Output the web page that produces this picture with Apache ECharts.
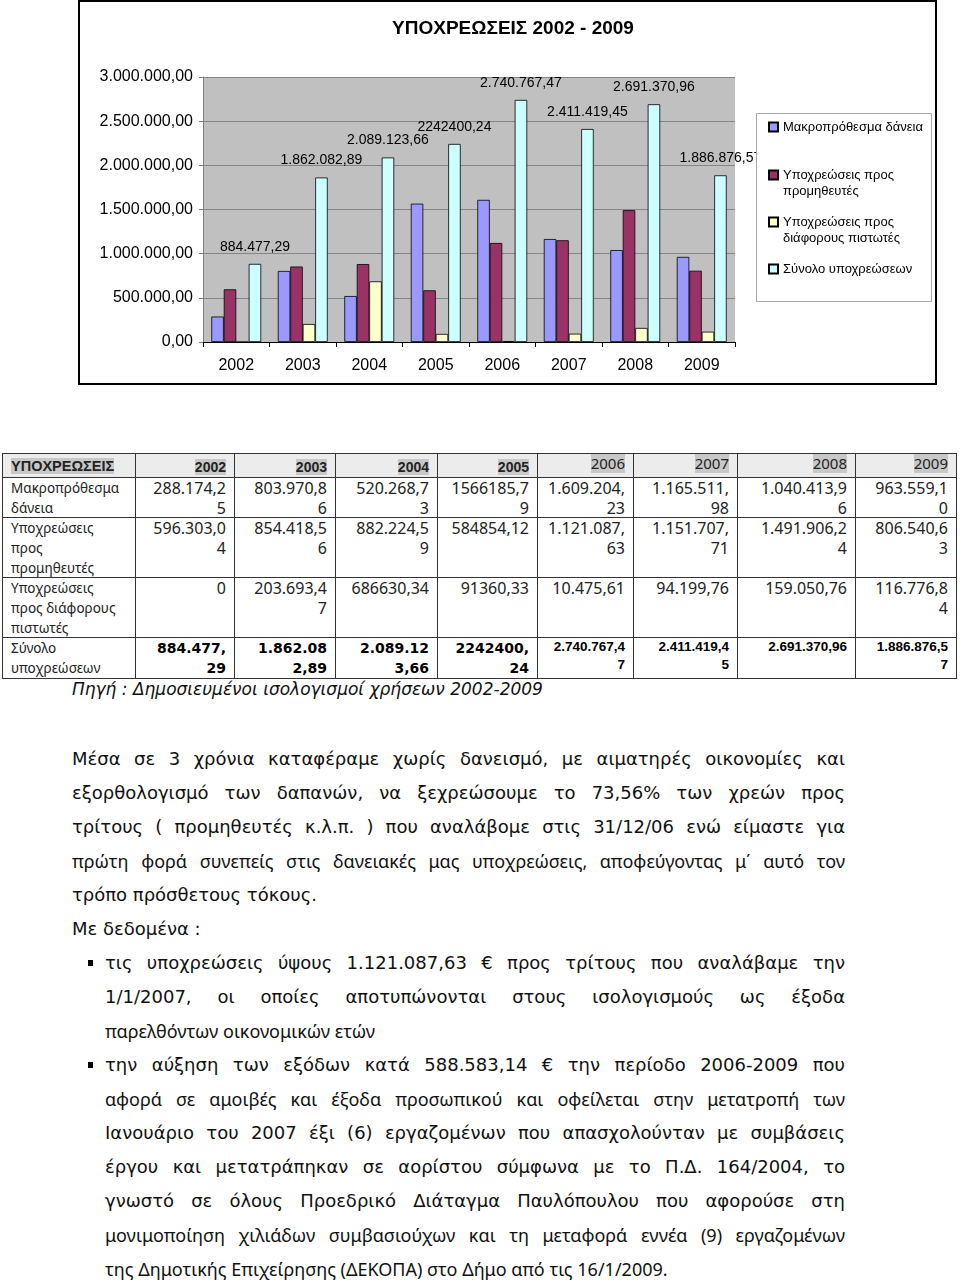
<!DOCTYPE html>
<html>
<head>
<meta charset="utf-8">
<script src="https://cdn.jsdelivr.net/npm/echarts@6/dist/echarts.min.js"></script>
<style>
  html, body { margin:0; padding:0; background:#fff; }
  body { width:960px; height:1282px; position:relative; overflow:hidden; }
  #chart { position:absolute; left:0; top:0; width:960px; height:390px; }
  #tbl { position:absolute; left:2px; top:453px; border-collapse:collapse; table-layout:fixed;
         font-family:'Noto Sans', 'Open Sans', sans-serif; font-size:16px; color:#222; }
  #tbl td { border:1px solid #333; padding:0; vertical-align:top; white-space:pre; line-height:20px; }
  #tbl td > div { overflow:hidden; padding:0 8px; box-sizing:border-box; }
  #tbl td.lab { font-size:13.5px; }
  #tbl td.num { text-align:right; }
  #tbl tr.hdr td { background:#ececec; }
  #tbl tr.hdr td.old > div { padding-top:3px; font-family:'Liberation Sans', Arial, sans-serif; font-weight:bold; font-size:14px; line-height:20px; }
  #tbl tr.hdr td.new > div { line-height:18px; font-size:15px; }
  #tbl tr.hdr span { background:#c8c8c8; }
  #tbl tr.hdr td.first > div { padding-top:2px; font-family:'Liberation Sans', Arial, sans-serif; font-weight:bold; font-size:14.5px; line-height:20px; }
  #tbl td.boldOld { font-family:'DejaVu Sans', sans-serif; font-weight:bold; font-size:14px; color:#000; }
  #tbl td.boldNew { font-family:'Liberation Sans', Arial, sans-serif; font-weight:bold; font-size:13.5px; line-height:18px; color:#000; }
  #src { position:absolute; left:72px; top:678px; font-family:'DejaVu Sans', sans-serif; font-style:italic; font-size:17px; line-height:22px; color:#111; white-space:nowrap; }
  #txt { position:absolute; left:0; top:742px; width:960px; font-family:'DejaVu Sans', sans-serif; font-size:18px; line-height:34px; color:#111; }
  #txt div.ln { position:relative; height:34px; }
  #txt div.ln span.t { position:absolute; top:0; }
  .j { text-align:justify; text-align-last:justify; }
  .c { font-family:'Noto Sans', 'Open Sans', sans-serif; }
  .bul { position:absolute; left:88px; top:14px; width:5px; height:6px; background:#000; }
</style>
</head>
<body>
<div id="chart"></div>
<table id="tbl"></table>
<div id="src">Πηγή : Δημοσιευμένοι ισολογισμοί χρήσεων 2002-2009</div>
<div id="txt"></div>
<script>
// ---------- data ----------
const years = ['2002', '2003', '2004', '2005', '2006', '2007', '2008', '2009'];
const seriesNames = ['Μακροπρόθεσμα δάνεια', 'Υποχρεώσεις προς προμηθευτές', 'Υποχρεώσεις προς διάφορους πιστωτές', 'Σύνολο υποχρεώσεων'];
const longTermLoans = [288174.25, 803970.86, 520268.73, 1566185.79, 1609204.23, 1165511.98, 1040413.96, 963559.10];
const suppliers = [596303.04, 854418.56, 882224.59, 584854.12, 1121087.63, 1151707.71, 1491906.24, 806540.63];
const otherCreditors = [0, 203693.47, 686630.34, 91360.33, 10475.61, 94199.76, 159050.76, 116776.84];
const totals = [884477.29, 1862082.89, 2089123.66, 2242400.24, 2740767.47, 2411419.45, 2691370.96, 1886876.57];
const totalLabels = ['884.477,29', '1.862.082,89', '2.089.123,66', '2242400,24', '2.740.767,47', '2.411.419,45', '2.691.370,96', '1.886.876,57'];

// table texts
const tableHeader = 'ΥΠΟΧΡΕΩΣΕΙΣ';
const rowLabels = ['Μακροπρόθεσμα\nδάνεια', 'Υποχρεώσεις\nπρος\nπρομηθευτές', 'Υποχρεώσεις\nπρος διάφορους\nπιστωτές', 'Σύνολο\nυποχρεώσεων'];
const loanCells = ['288.174,2\n5', '803.970,8\n6', '520.268,7\n3', '1566185,7\n9', '1.609.204,\n23', '1.165.511,\n98', '1.040.413,9\n6', '963.559,1\n0'];
const supplierCells = ['596.303,0\n4', '854.418,5\n6', '882.224,5\n9', '584854,12', '1.121.087,\n63', '1.151.707,\n71', '1.491.906,2\n4', '806.540,6\n3'];
const creditorCells = ['0', '203.693,4\n7', '686630,34', '91360,33', '10.475,61', '94.199,76', '159.050,76', '116.776,8\n4'];
const totalCells = ['884.477,\n29', '1.862.08\n2,89', '2.089.12\n3,66', '2242400,\n24', '2.740.767,4\n7', '2.411.419,4\n5', '2.691.370,96', '1.886.876,5\n7'];

// ---------- chart ----------
const colors = ['#9999FF', '#993366', '#FFFFCC', '#CCFFFF'];
const legendLabels = {
  'Μακροπρόθεσμα δάνεια': 'Μακροπρόθεσμα δάνεια',
  'Υποχρεώσεις προς προμηθευτές': '\nΥποχρεώσεις προς\nπρομηθευτές',
  'Υποχρεώσεις προς διάφορους πιστωτές': '\nΥποχρεώσεις προς\nδιάφορους πιστωτές',
  'Σύνολο υποχρεώσεων': 'Σύνολο υποχρεώσεων'
};
const legendTops = [114, 146, 193, 256];
const F = "'Liberation Sans', Arial, sans-serif";

function fmtGreek(v) {
  const s = v.toFixed(2).split('.');
  return s[0].replace(/\B(?=(\d{3})+(?!\d))/g, '.') + ',' + s[1];
}

const dataSets = [longTermLoans, suppliers, otherCreditors, totals];
const chart = echarts.init(document.getElementById('chart'), null, { renderer: 'canvas' });
chart.setOption({
  animation: false,
  color: colors,
  title: {
    text: 'ΥΠΟΧΡΕΩΣΕΙΣ 2002 - 2009',
    left: 508, top: 14, textAlign: 'center',
    textStyle: { fontFamily: F, fontWeight: 'bold', fontSize: 19, color: '#000' }
  },
  graphic: [
    { type: 'rect', z: -10, shape: { x: 79, y: 1, width: 857, height: 383 }, style: { fill: 'none', stroke: '#000', lineWidth: 2 } },
    { type: 'rect', z: 50, shape: { x: 756.5, y: 113.5, width: 175, height: 188 }, style: { fill: '#fff', stroke: '#a8a8a8', lineWidth: 1 } }
  ],
  legend: seriesNames.map((n, i) => ({
    z: 60,
    data: [n],
    orient: 'vertical',
    left: 763, top: legendTops[i],
    itemWidth: 9, itemHeight: 9,
    icon: 'rect',
    selectedMode: false,
    formatter: name => legendLabels[name],
    textStyle: { fontFamily: F, fontSize: 13, color: '#000', lineHeight: 16 }
  })),
  grid: { left: 203, right: 225, top: 77, bottom: 48, show: true, backgroundColor: '#c0c0c0', borderWidth: 0 },
  xAxis: {
    type: 'category', data: years,
    axisLine: { lineStyle: { color: '#000', width: 1 } },
    axisTick: { show: true, length: 5, lineStyle: { color: '#000' } },
    axisLabel: { fontFamily: F, fontSize: 16, color: '#000', margin: 16 }
  },
  yAxis: {
    type: 'value', min: 0, max: 3000000, interval: 500000,
    axisLine: { show: true, lineStyle: { color: '#808080' } },
    axisTick: { show: true, length: 4, lineStyle: { color: '#808080' } },
    splitLine: { lineStyle: { color: '#858585', width: 1 } },
    axisLabel: { fontFamily: F, fontSize: 16, color: '#000', margin: 10, formatter: v => fmtGreek(v) }
  },
  series: seriesNames.map((n, i) => ({
    name: n,
    type: 'bar',
    data: dataSets[i],
    barGap: '0%',
    barCategoryGap: '25%',
    itemStyle: { color: colors[i], borderColor: '#000', borderWidth: 0.8 },
    label: i === 3 ? {
      show: true, position: 'top', distance: 10,
      formatter: p => totalLabels[p.dataIndex],
      fontFamily: F, fontSize: 14, color: '#000'
    } : { show: false }
  }))
});

// ---------- table ----------
const colW = [133, 99, 101, 102, 100, 96, 104, 118, 101];
const tbl = document.getElementById('tbl');
const cg = document.createElement('colgroup');
colW.forEach(w => { const c = document.createElement('col'); c.style.width = w + 'px'; cg.appendChild(c); });
tbl.appendChild(cg);
tbl.style.width = colW.reduce((a, b) => a + b, 0) + 'px';

function esc(s) { return s.replace(/&/g, '&amp;').replace(/</g, '&lt;'); }
function cell(cls, content, h) { return '<td class="' + cls + '"><div style="height:' + h + 'px">' + content + '</div></td>'; }
const hdrH = 23;
let html = '<tr class="hdr">' + cell('first', '<span>' + esc(tableHeader) + '</span>', hdrH);
years.forEach((y, i) => { html += cell('num ' + (i < 4 ? 'old' : 'new'), '<span>' + y + '</span>', hdrH); });
html += '</tr>';
const rows = [loanCells, supplierCells, creditorCells, totalCells];
const rowH = [39, 59, 59, 40];
rows.forEach((r, ri) => {
  html += '<tr>' + cell('lab', esc(rowLabels[ri]), rowH[ri]);
  r.forEach((c, ci) => {
    let cls = 'num';
    if (ri === 3) cls += ci < 4 ? ' boldOld' : ' boldNew';
    html += cell(cls, esc(c), rowH[ri]);
  });
  html += '</tr>';
});
tbl.innerHTML += html;

// ---------- text ----------
const paraLines = [
  ['Μέσα σε 3 χρόνια καταφέραμε χωρίς δανεισμό, με αιματηρές οικονομίες και', 'j', 0],
  ['εξορθολογισμό των δαπανών, να  ξεχρεώσουμε το 73,56% των χρεών προς', 'j', 0],
  ['τρίτους ( προμηθευτές κ.λ.π. ) που αναλάβομε στις 31/12/06 ενώ είμαστε για', 'j', 0],
  ['πρώτη φορά συνεπείς στις δανειακές μας υποχρεώσεις, αποφεύγοντας μ΄ αυτό τον', 'j c', 0],
  ['τρόπο πρόσθετους τόκους.', '', 0],
  ['Με δεδομένα :', '', 0],
  ['τις υποχρεώσεις ύψους 1.121.087,63 € προς τρίτους που αναλάβαμε την', 'j', 2],
  ['1/1/2007, οι οποίες αποτυπώνονται στους ισολογισμούς ως έξοδα', 'j', 1],
  ['παρελθόντων οικονομικών ετών', 'c', 1],
  ['την αύξηση των εξόδων κατά 588.583,14 € την περίοδο 2006-2009 που', 'j', 2],
  ['αφορά σε αμοιβές και έξοδα προσωπικού και οφείλεται στην μετατροπή των', 'j c', 1],
  ['Ιανουάριο του 2007 έξι (6) εργαζομένων που απασχολούνταν με συμβάσεις', 'j', 1],
  ['έργου και μετατράπηκαν σε αορίστου σύμφωνα με το Π.Δ. 164/2004, το', 'j', 1],
  ['γνωστό σε όλους Προεδρικό Διάταγμα Παυλόπουλου που αφορούσε στη', 'j', 1],
  ['μονιμοποίηση χιλιάδων συμβασιούχων και τη μεταφορά εννέα (9) εργαζομένων', 'j c', 1],
  ['της Δημοτικής Επιχείρησης (ΔΕΚΟΠΑ) στο Δήμο από τις 16/1/2009.', 'c', 1]
];
const txt = document.getElementById('txt');
let th = '';
paraLines.forEach(([t, cls, ind]) => {
  const left = ind ? 105 : 72;
  const width = 845 - left;
  th += '<div class="ln">' + (ind === 2 ? '<div class="bul"></div>' : '') +
        '<span class="t ' + cls + '" style="left:' + left + 'px;width:' + width + 'px;' + (cls.indexOf('j') >= 0 ? 'display:block;' : '') + '">' + esc(t) + '</span></div>';
});
txt.innerHTML = th;
</script>
</body>
</html>
